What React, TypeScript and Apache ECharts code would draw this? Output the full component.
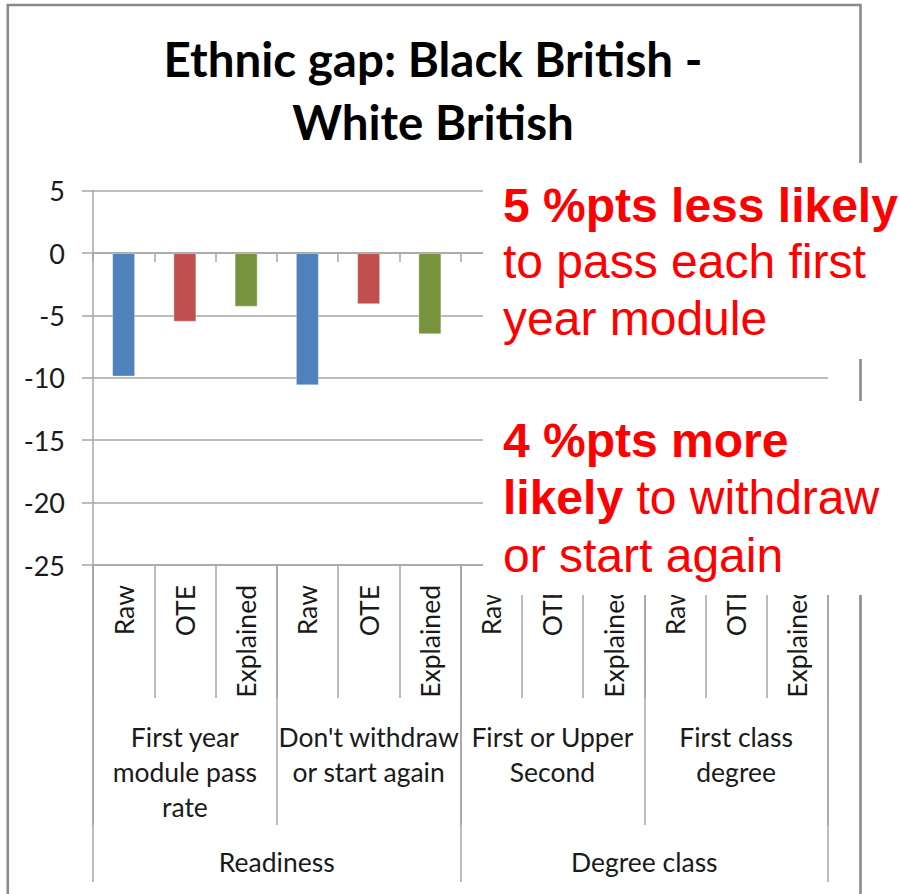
import React, { useEffect, useRef } from "react";
import * as echarts from "echarts";

// Bar labels (level 1), measures (level 2) and sections (level 3)
const categories = [
  "Raw", "OTE", "Explained",
  "Raw", "OTE", "Explained",
  "Raw", "OTE", "Explained",
  "Raw", "OTE", "Explained",
];
const measures = [
  "First year\nmodule pass\nrate",
  "Don't withdraw\nor start again",
  "First or Upper\nSecond",
  "First class\ndegree",
];
const sections = ["Readiness", "Degree class"];

// Gap in percentage points (Black British minus White British)
const gapValues: (number | null)[] = [
  -9.9, -5.5, -4.3,
  -10.6, -4.1, -6.5,
  null, null, null,
  null, null, null,
];

const estimateColors: Record<string, string> = {
  Raw: "#4F81BD",
  OTE: "#C0504D",
  Explained: "#77933C",
};

const yMin = -25;
const yMax = 5;
const yStep = 5;

const chartTitle = "Ethnic gap: Black British -\nWhite British";

// Callout boxes: each line is a list of [text, bold] runs
const calloutPassRate: [string, boolean][][] = [
  [["5 %pts less likely", true]],
  [["to pass each first", false]],
  [["year module", false]],
];
const calloutWithdraw: [string, boolean][][] = [
  [["4 %pts more", true]],
  [["likely", true], [" to withdraw", false]],
  [["or start again", false]],
];

const W = 899;
const H = 894;
const LABEL_FONT = "Lato, 'Noto Sans', sans-serif";
const CALLOUT_FONT = "'Liberation Sans', Arial, sans-serif";
const GRID_GREY = "#a6a6a6";
const TEXT_DARK = "#1a1a1a";

function richLines(lines: [string, boolean][][]): string {
  return lines
    .map((runs) => runs.map(([t, b]) => `{${b ? "b" : "r"}|${t}}`).join(""))
    .join("\n");
}

function calloutText(lines: [string, boolean][][], x: number, yMid: number, lh: number) {
  return {
    type: "text",
    z: 102,
    x,
    y: yMid,
    style: {
      text: richLines(lines),
      align: "left",
      verticalAlign: "middle",
      lineHeight: lh,
      rich: {
        b: {
          fontFamily: CALLOUT_FONT,
          fontSize: 48,
          fontWeight: "bold",
          fill: "#ff0000",
          lineHeight: lh,
        },
        r: {
          fontFamily: CALLOUT_FONT,
          fontSize: 48,
          fontWeight: "normal",
          fill: "#ff0000",
          lineHeight: lh,
        },
      },
    },
  };
}

export default function App() {
  const ref = useRef<HTMLDivElement>(null);

  useEffect(() => {
    if (!ref.current) return;
    const chart = echarts.init(ref.current, null, { renderer: "svg" });

    const gridLeft = 93;
    const gridRight = 828;
    const gridTop = 190.7;
    const gridBottom = 565;

    const axisLineStyle = { color: GRID_GREY, width: 1.5 };
    const labelSize = 26.5;

    const option: echarts.EChartsOption = {
      animation: false,
      backgroundColor: "#ffffff",
      grid: {
        left: gridLeft,
        right: W - gridRight,
        top: gridTop,
        bottom: H - gridBottom,
        containLabel: false,
      },
      xAxis: [
        {
          type: "category",
          data: categories,
          position: "bottom",
          axisLine: { show: true, onZero: false, lineStyle: axisLineStyle },
          axisTick: { show: true, interval: 0, length: 133, lineStyle: axisLineStyle },
          axisLabel: {
            interval: 0,
            rotate: 90,
            margin: 20,
            fontSize: labelSize,
            fontFamily: LABEL_FONT,
            color: TEXT_DARK,
          },
          splitLine: { show: false },
        },
        {
          type: "category",
          data: measures,
          position: "bottom",
          axisLine: { show: false, onZero: false },
          axisTick: { show: true, interval: 0, length: 260, lineStyle: axisLineStyle },
          axisLabel: {
            interval: 0,
            margin: 154,
            fontSize: labelSize,
            lineHeight: 35,
            fontFamily: LABEL_FONT,
            color: TEXT_DARK,
            align: "center",
          },
          splitLine: { show: false },
        },
        {
          type: "category",
          data: sections,
          position: "bottom",
          axisLine: { show: false, onZero: false },
          axisTick: { show: true, interval: 0, length: 317, lineStyle: axisLineStyle },
          axisLabel: {
            interval: 0,
            margin: 279,
            fontSize: labelSize,
            lineHeight: 35,
            fontFamily: LABEL_FONT,
            color: TEXT_DARK,
          },
          splitLine: { show: false },
        },
        {
          // category axis crossing at zero, with short tick marks
          type: "category",
          data: categories,
          position: "bottom",
          axisLine: { show: true, onZero: true, lineStyle: axisLineStyle },
          axisTick: { show: true, interval: 0, length: 9, lineStyle: axisLineStyle },
          axisLabel: { show: false },
          splitLine: { show: false },
        },
      ],
      yAxis: {
        type: "value",
        min: yMin,
        max: yMax,
        interval: yStep,
        axisLine: { show: true, lineStyle: axisLineStyle },
        axisTick: { show: true, length: 11, lineStyle: axisLineStyle },
        splitLine: { show: true, lineStyle: axisLineStyle },
        axisLabel: {
          margin: 28,
          fontSize: 27,
          fontFamily: LABEL_FONT,
          color: TEXT_DARK,
        },
      },
      series: [
        {
          type: "bar",
          xAxisIndex: 0,
          yAxisIndex: 0,
          barWidth: 23,
          data: gapValues.map((v, i) => ({
            value: v,
            itemStyle: {
              color: estimateColors[categories[i]],
              borderColor: "rgba(255,255,255,0.35)",
              borderWidth: 1,
            },
          })),
        },
      ],
      graphic: [
        {
          type: "rect",
          z: 99,
          silent: true,
          shape: { x: 7.8, y: 5, width: 852.7, height: 940 },
          style: { fill: "none", stroke: "#8a8a8a", lineWidth: 2.6 },
        },
        {
          type: "text",
          z: 100,
          x: 433,
          y: 89.5,
          style: {
            text: chartTitle,
            align: "center",
            verticalAlign: "middle",
            fontFamily: LABEL_FONT,
            fontWeight: "bold",
            fontSize: 47.5,
            lineHeight: 63,
            fill: "#000000",
          },
        },
        {
          type: "rect",
          z: 101,
          silent: true,
          shape: { x: 483, y: 163, width: 420, height: 196 },
          style: { fill: "#ffffff" },
        },
        {
          type: "rect",
          z: 101,
          silent: true,
          shape: { x: 483, y: 401, width: 420, height: 194 },
          style: { fill: "#ffffff" },
        },
        calloutText(calloutPassRate, 503, 261.7, 56.7),
        calloutText(calloutWithdraw, 503, 497.6, 57.5),
      ] as any,
    };

    chart.setOption(option);
    return () => chart.dispose();
  }, []);

  return (
    <div
      ref={ref}
      style={{ position: "fixed", left: 0, top: 0, width: W, height: H, background: "#fff" }}
    />
  );
}
